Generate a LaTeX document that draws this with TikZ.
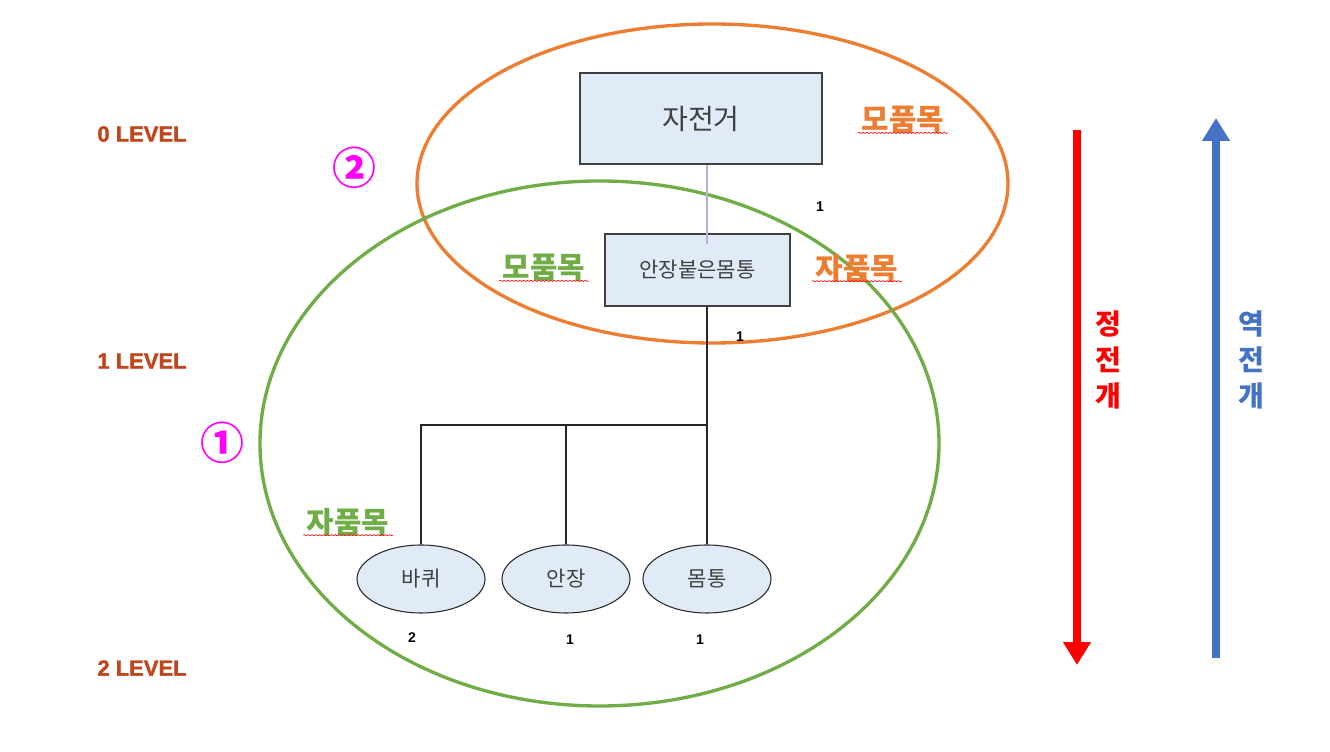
\documentclass[tikz,border=0pt]{standalone}
\usepackage{fontspec}
\setmainfont{Liberation Sans}
\newfontfamily\kr{Noto Sans CJK KR}
\newfontfamily\lvlfont{Liberation Sans}[FakeBold=1.6]
\usetikzlibrary{shapes.geometric,arrows.meta,decorations.pathmorphing}
\definecolor{lvlred}{HTML}{C0461E}
\definecolor{grporange}{HTML}{ED7D31}
\definecolor{grpgreen}{HTML}{70AD47}
\definecolor{boxblue}{HTML}{E1EBF7}
\definecolor{linkpurple}{HTML}{B8AEDC}
\definecolor{revblue}{HTML}{4472C4}
\definecolor{circmag}{HTML}{FF00FF}
\definecolor{fwdred}{HTML}{FF0000}
\begin{document}
\begin{tikzpicture}[
    partbox/.style={rectangle, draw=black!75, fill=boxblue, thick, text=black!75, font=\kr},
    leaf/.style={ellipse, draw=black!85, fill=boxblue, semithick, minimum width=2.56cm, minimum height=1.36cm, font=\kr\fontsize{12}{14}\selectfont, text=black!75},
    grplabel/.style={font=\kr\bfseries\fontsize{17}{20}\selectfont},
    lvl/.style={font=\lvlfont\bfseries\fontsize{12.5}{14}\selectfont, text=lvlred},
    qty/.style={font=\bfseries\fontsize{8}{9}\selectfont},
    circnum/.style={font=\kr\bfseries\fontsize{25}{28}\selectfont, text=circmag},
    dirtext/.style={font=\kr\bfseries\fontsize{16}{20.5}\selectfont, align=center},
    squiggle/.style={draw=red, line width=0.35pt, decorate, decoration={snake, amplitude=0.35pt, segment length=2.2pt}},
    tree/.style={draw=black!85, semithick}
]
\useasboundingbox (0,0) rectangle (26.6,15.04);

% Grouping ellipses
\draw[grporange, line width=1.9pt] (14.25,11.37) ellipse [x radius=5.91, y radius=3.19];
\draw[grpgreen, line width=1.9pt] (11.99,6.17) ellipse [x radius=6.79, y radius=5.25];

% Parts
\node[partbox, minimum width=4.84cm, minimum height=1.82cm, font=\kr\fontsize{16}{18}\selectfont] (bike) at (14.02,12.67) {자전거};
\node[partbox, minimum width=3.7cm, minimum height=1.44cm, font=\kr\fontsize{12}{14}\selectfont] (body) at (13.95,9.64) {안장붙은몸통};
\node[leaf] (wheel) at (8.42,3.46) {바퀴};
\node[leaf] (seat) at (11.32,3.46) {안장};
\node[leaf] (frame) at (14.14,3.46) {몸통};

% Connectors
\coordinate (trunk) at (14.14,6.54);
\draw[linkpurple, thick] (bike.south -| trunk) -- ([yshift=-0.22cm]body.north -| trunk);
\draw[tree, thick] (body.south -| trunk) -- (trunk);
\draw[tree] (trunk) -| (wheel.north);
\draw[tree] (trunk) -| (seat.north);
\draw[tree] (trunk) -- (frame.north);

% Quantities
\node[qty] (q1) at (16.4,10.9) {1};
\node[qty] (q2) at (14.8,8.3) {1};
\node[qty] (q3) at (8.24,2.28) {2};
\node[qty] (q4) at (11.4,2.24) {1};
\node[qty] (q5) at (14.0,2.24) {1};

% Group labels
\node[grplabel, text=grporange] (mo1) at (18.06,12.64) {모품목};
\node[grplabel, text=grpgreen] (mo2) at (10.88,9.68) {모품목};
\node[grplabel, text=grporange] (ja1) at (17.14,9.68) {자품목};
\node[grplabel, text=grpgreen] (ja2) at (6.96,4.6) {자품목};
\foreach \l in {mo1,mo2,ja1,ja2}
  \path[squiggle] ([xshift=0.05cm,yshift=0.14cm]\l.south west) -- ([xshift=-0.05cm,yshift=0.14cm]\l.south east);

\node[circnum] (two) at (7.08,11.68) {②};
\node[circnum] (one) at (4.44,6.18) {①};

% Levels
\node[lvl] (lv0) at (2.84,12.36) {0 LEVEL};
\node[lvl] (lv1) at (2.84,7.82) {1 LEVEL};
\node[lvl] (lv2) at (2.84,1.68) {2 LEVEL};

% Direction arrows
\coordinate (fwdtop) at (21.54,12.44);
\coordinate (fwdend) at (21.54,1.74);
\coordinate (revbot) at (24.32,1.88);
\coordinate (revend) at (24.32,12.68);
\draw[fwdred, line width=4.5pt, -{Triangle[width=15pt,length=13pt]}] (fwdtop) -- (fwdend);
\draw[revblue, line width=4.5pt, -{Triangle[width=15pt,length=13pt]}] (revbot) -- (revend);
\node[dirtext, text=fwdred] (fwd) at (22.16,7.84) {정\\전\\개};
\node[dirtext, text=revblue] (rev) at (25.02,7.84) {역\\전\\개};

\end{tikzpicture}
\end{document}
